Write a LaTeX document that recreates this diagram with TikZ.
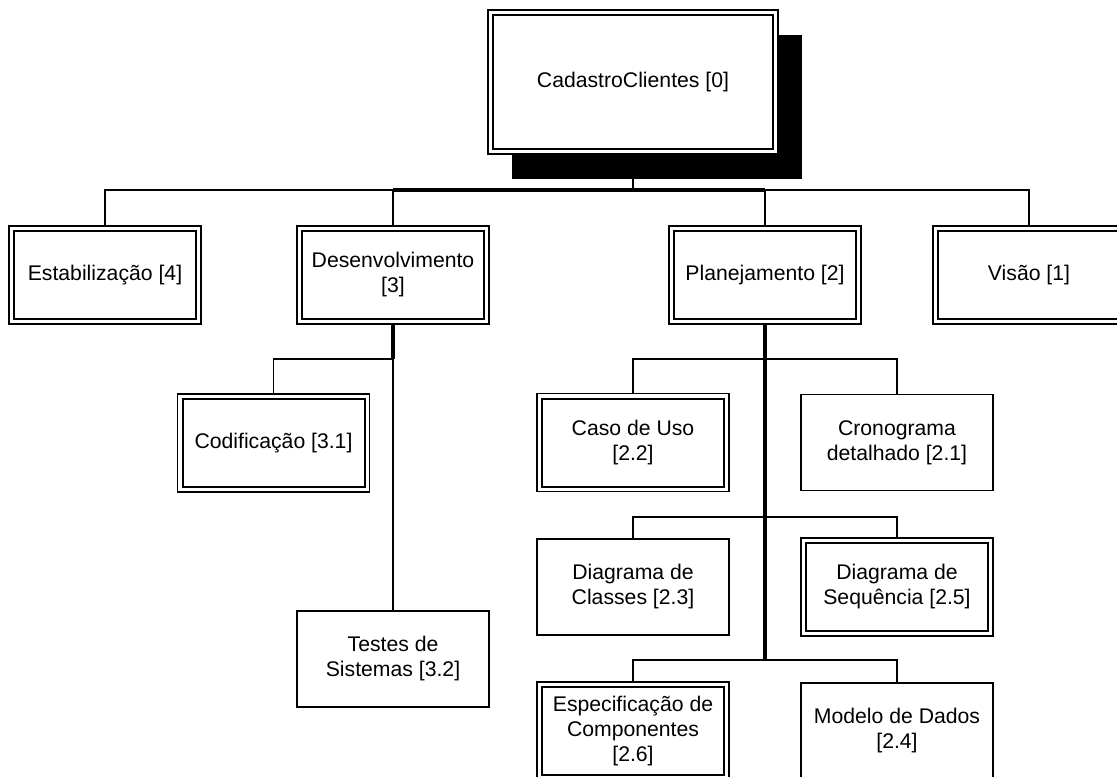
\documentclass[tikz,border=0pt]{standalone}
\usepackage{fontspec}
\setmainfont{Liberation Sans}
\usetikzlibrary{shadows}
\tikzset{
  box/.style={draw, line width=1.3pt, fill=white, minimum width=144pt, minimum height=72pt,
    inner sep=0pt, align=center, font=\fontsize{15.9}{18.75}\selectfont},
  dbox/.style={box, line width=1.1pt, minimum height=73.5pt,
    path picture={\draw[line width=1.5pt]
      ([shift={(3.75pt,-3.75pt)}]path picture bounding box.north west) rectangle
      ([shift={(-3.75pt,3.75pt)}]path picture bounding box.south east);}},
  conn/.style={line width=1.2pt},
  trunk/.style={line width=2.3pt},
}
\begin{document}
\begin{tikzpicture}[x=0.75pt,y=-0.75pt]
\useasboundingbox (0,0) rectangle (1117,777);
\clip (0,0) rectangle (1117,777);
\fill[white] (0,0) rectangle (1117,777);

% root
\node[dbox, minimum width=217.5pt, minimum height=108pt,
  general shadow={shadow xshift=18pt, shadow yshift=-18.75pt, fill=black}]
  (root) at (633,82) {CadastroClientes [0]};

% level 1
\node[dbox] (est)  at (105,275)  {Estabilização [4]};
\node[dbox] (des)  at (393,275)  {Desenvolvimento\\{[3]}};
\node[dbox] (plan) at (765,275)  {Planejamento [2]};
\node[dbox] (vis)  at (1029,275) {Visão [1]};

% Desenvolvimento children
\node[dbox] (cod) at (273.5,443) {Codificação [3.1]};
\node[box]  (tes) at (393,659)   {Testes de\\Sistemas [3.2]};

% Planejamento children
\node[dbox] (caso)  at (633,442.5) {Caso de Uso\\{[2.2]}};
\node[box]  (crono) at (897,442.5) {Cronograma\\detalhado [2.1]};
\node[box]  (cls)   at (633,587)   {Diagrama de\\Classes [2.3]};
\node[dbox] (seq)   at (897,587)   {Diagrama de\\Sequência [2.5]};
\node[dbox] (esp)   at (633,731)   {Especificação de\\Componentes\\{[2.6]}};
\node[box]  (mod)   at (897,731)   {Modelo de Dados\\{[2.4]}};

% junction coordinates
\coordinate (bus) at (633,190);
\coordinate (dj)  at (393,359);
\coordinate (pj1) at (765,359);
\coordinate (pj2) at (765,517);
\coordinate (pj3) at (765,660);

% connectors
\draw[conn] (root.south) -- (bus);
\draw[conn] (bus) -| (est.north);
\draw[conn] (bus) -| (vis.north);
\draw[conn] (bus) -| (des.north);
\draw[conn] (bus) -| (plan.north);
\draw[trunk] (des.north |- bus) -- (plan.north |- bus);

\draw[trunk] (des.south) -- (dj);
\draw[conn] (dj) -| (cod.north);
\draw[conn] (dj) -- (tes.north);

\draw[trunk] (plan.south) -- (pj3);
\draw[conn] (pj1) -| (caso.north);
\draw[conn] (pj1) -| (crono.north);
\draw[conn] (pj2) -| (cls.north);
\draw[conn] (pj2) -| (seq.north);
\draw[conn] (pj3) -| (esp.north);
\draw[conn] (pj3) -| (mod.north);
\end{tikzpicture}
\end{document}
